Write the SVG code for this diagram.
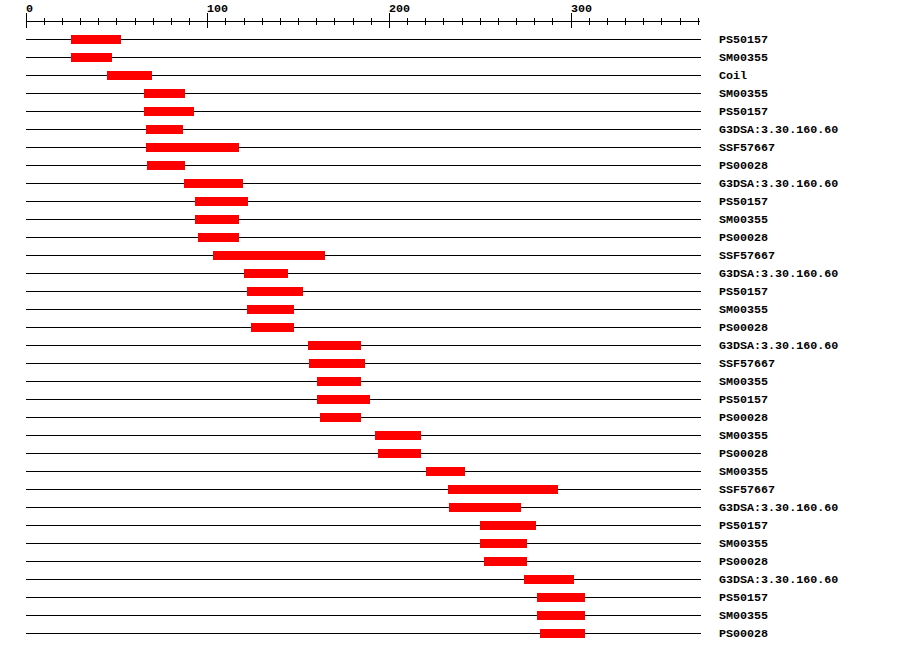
<svg xmlns="http://www.w3.org/2000/svg" width="900" height="652" viewBox="0 0 900 652">
<style>
.ax{stroke:#000;stroke-width:1;fill:none}
.ln{stroke:#000;stroke-width:1}
.bar{fill:#ff0000}
.t{font-family:"Liberation Mono","DejaVu Sans Mono",monospace;font-weight:bold;font-size:11.7px;fill:#000}
</style>
<rect width="900" height="652" fill="#fff"/>
<g id="ruler">
<path class="ax" d="M26 21.5H700"/>
<path class="ax" d="M26.5 13V28M207.5 13V28M389.5 13V28M571.5 13V28"/>
<path class="ax" d="M44.5 18V25M62.5 18V25M80.5 18V25M98.5 18V25M116.5 18V25M135.5 18V25M153.5 18V25M171.5 18V25M189.5 18V25M225.5 18V25M244.5 18V25M262.5 18V25M280.5 18V25M298.5 18V25M316.5 18V25M334.5 18V25M353.5 18V25M371.5 18V25M407.5 18V25M425.5 18V25M443.5 18V25M462.5 18V25M480.5 18V25M498.5 18V25M516.5 18V25M534.5 18V25M552.5 18V25M589.5 18V25M607.5 18V25M625.5 18V25M643.5 18V25M661.5 18V25M680.5 18V25M698.5 18V25"/>
<text class="t" x="26" y="12">0</text>
<text class="t" x="207" y="12">100</text>
<text class="t" x="389" y="12">200</text>
<text class="t" x="571" y="12">300</text>
</g>
<g id="connectors">
<path class="ln" d="M26 39.5H701M26 57.5H701M26 75.5H701M26 93.5H701M26 111.5H701M26 129.5H701M26 147.5H701M26 165.5H701M26 183.5H701M26 201.5H701M26 219.5H701M26 237.5H701M26 255.5H701M26 273.5H701M26 291.5H701M26 309.5H701M26 327.5H701M26 345.5H701M26 363.5H701M26 381.5H701M26 399.5H701M26 417.5H701M26 435.5H701M26 453.5H701M26 471.5H701M26 489.5H701M26 507.5H701M26 525.5H701M26 543.5H701M26 561.5H701M26 579.5H701M26 597.5H701M26 615.5H701M26 633.5H701"/>
</g>
<g id="row1"><rect class="bar" x="71" y="35" width="50" height="9"/><text class="t" x="719" y="43">PS50157</text></g>
<g id="row2"><rect class="bar" x="71" y="53" width="41" height="9"/><text class="t" x="719" y="61">SM00355</text></g>
<g id="row3"><rect class="bar" x="107" y="71" width="45" height="9"/><text class="t" x="719" y="79">Coil</text></g>
<g id="row4"><rect class="bar" x="144" y="89" width="41" height="9"/><text class="t" x="719" y="97">SM00355</text></g>
<g id="row5"><rect class="bar" x="144" y="107" width="50" height="9"/><text class="t" x="719" y="115">PS50157</text></g>
<g id="row6"><rect class="bar" x="146" y="125" width="37" height="9"/><text class="t" x="719" y="133">G3DSA:3.30.160.60</text></g>
<g id="row7"><rect class="bar" x="146" y="143" width="93" height="9"/><text class="t" x="719" y="151">SSF57667</text></g>
<g id="row8"><rect class="bar" x="147" y="161" width="38" height="9"/><text class="t" x="719" y="169">PS00028</text></g>
<g id="row9"><rect class="bar" x="184" y="179" width="59" height="9"/><text class="t" x="719" y="187">G3DSA:3.30.160.60</text></g>
<g id="row10"><rect class="bar" x="195" y="197" width="53" height="9"/><text class="t" x="719" y="205">PS50157</text></g>
<g id="row11"><rect class="bar" x="195" y="215" width="44" height="9"/><text class="t" x="719" y="223">SM00355</text></g>
<g id="row12"><rect class="bar" x="198" y="233" width="41" height="9"/><text class="t" x="719" y="241">PS00028</text></g>
<g id="row13"><rect class="bar" x="213" y="251" width="112" height="9"/><text class="t" x="719" y="259">SSF57667</text></g>
<g id="row14"><rect class="bar" x="244" y="269" width="44" height="9"/><text class="t" x="719" y="277">G3DSA:3.30.160.60</text></g>
<g id="row15"><rect class="bar" x="247" y="287" width="56" height="9"/><text class="t" x="719" y="295">PS50157</text></g>
<g id="row16"><rect class="bar" x="247" y="305" width="47" height="9"/><text class="t" x="719" y="313">SM00355</text></g>
<g id="row17"><rect class="bar" x="251" y="323" width="43" height="9"/><text class="t" x="719" y="331">PS00028</text></g>
<g id="row18"><rect class="bar" x="308" y="341" width="53" height="9"/><text class="t" x="719" y="349">G3DSA:3.30.160.60</text></g>
<g id="row19"><rect class="bar" x="309" y="359" width="56" height="9"/><text class="t" x="719" y="367">SSF57667</text></g>
<g id="row20"><rect class="bar" x="317" y="377" width="44" height="9"/><text class="t" x="719" y="385">SM00355</text></g>
<g id="row21"><rect class="bar" x="317" y="395" width="53" height="9"/><text class="t" x="719" y="403">PS50157</text></g>
<g id="row22"><rect class="bar" x="320" y="413" width="41" height="9"/><text class="t" x="719" y="421">PS00028</text></g>
<g id="row23"><rect class="bar" x="375" y="431" width="46" height="9"/><text class="t" x="719" y="439">SM00355</text></g>
<g id="row24"><rect class="bar" x="378" y="449" width="43" height="9"/><text class="t" x="719" y="457">PS00028</text></g>
<g id="row25"><rect class="bar" x="426" y="467" width="39" height="9"/><text class="t" x="719" y="475">SM00355</text></g>
<g id="row26"><rect class="bar" x="448" y="485" width="110" height="9"/><text class="t" x="719" y="493">SSF57667</text></g>
<g id="row27"><rect class="bar" x="449" y="503" width="72" height="9"/><text class="t" x="719" y="511">G3DSA:3.30.160.60</text></g>
<g id="row28"><rect class="bar" x="480" y="521" width="56" height="9"/><text class="t" x="719" y="529">PS50157</text></g>
<g id="row29"><rect class="bar" x="480" y="539" width="47" height="9"/><text class="t" x="719" y="547">SM00355</text></g>
<g id="row30"><rect class="bar" x="484" y="557" width="43" height="9"/><text class="t" x="719" y="565">PS00028</text></g>
<g id="row31"><rect class="bar" x="524" y="575" width="50" height="9"/><text class="t" x="719" y="583">G3DSA:3.30.160.60</text></g>
<g id="row32"><rect class="bar" x="537" y="593" width="48" height="9"/><text class="t" x="719" y="601">PS50157</text></g>
<g id="row33"><rect class="bar" x="537" y="611" width="48" height="9"/><text class="t" x="719" y="619">SM00355</text></g>
<g id="row34"><rect class="bar" x="540" y="629" width="45" height="9"/><text class="t" x="719" y="637">PS00028</text></g>
</svg>
